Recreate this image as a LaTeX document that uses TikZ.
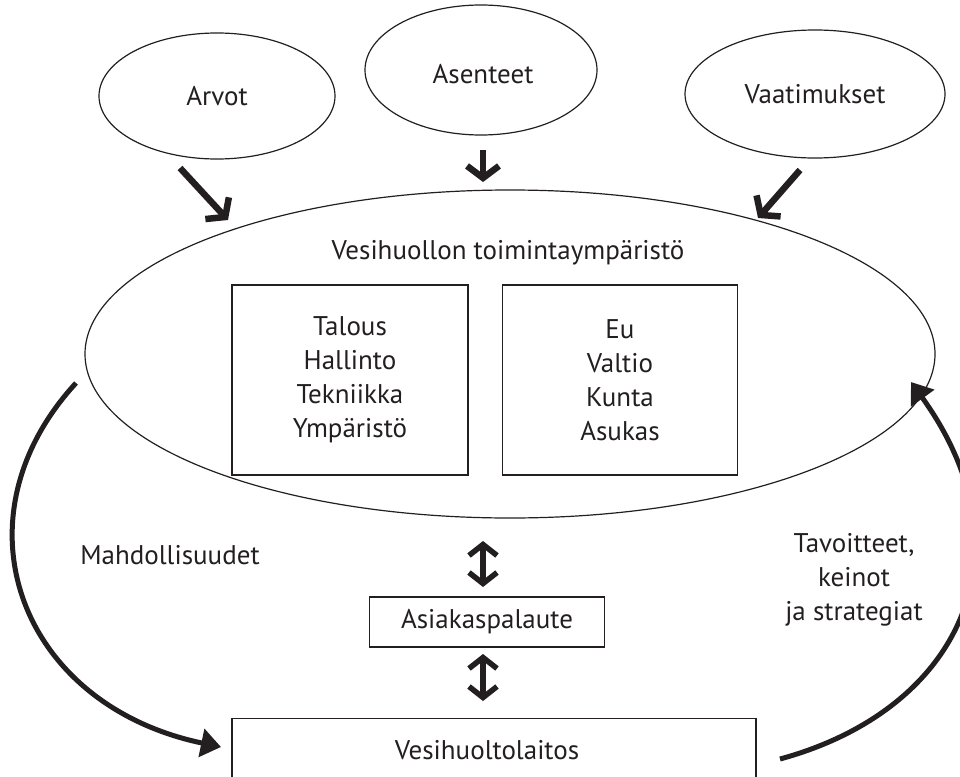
\documentclass[tikz,border=0pt]{standalone}
\usepackage{fontspec}
\setmainfont{PT Sans}
\usetikzlibrary{arrows.meta,shapes.geometric,calc}
\definecolor{ink}{HTML}{231F20}
\begin{document}
\begin{tikzpicture}[x=1pt,y=-1pt,
  every node/.style={font=\fontsize{27}{34}\selectfont, text=ink},
  oval/.style={draw=ink, line width=1.2pt, ellipse, inner sep=0pt},
  box/.style={draw=ink, line width=1.4pt, inner sep=0pt, align=center},
  bigarrow/.style={line width=6.5pt, draw=ink, -{Straight Barb[length=12pt,width=32pt]}},
  dblarrow/.style={line width=5.5pt, draw=ink, {Straight Barb[length=11pt,width=28pt]}-{Straight Barb[length=11pt,width=28pt]}},
  curvearrow/.style={line width=5pt, draw=ink, -{Triangle[length=20pt,width=28pt]}},
  lbl/.style={align=center}
]
\useasboundingbox (0,0) rectangle (960,776);
\clip (0,0) rectangle (960,776);

% top ovals
\node[oval, minimum width=236pt, minimum height=126pt] (arvot) at (217,96) {Arvot};
\node[oval, minimum width=232pt, minimum height=130pt] (asenteet) at (481,70) {};
\node (asenteetT) at (483,74) {Asenteet};
\node[oval, minimum width=260pt, minimum height=128pt] (vaat) at (815,94) {Vaatimukset};

% big ellipse
\node[oval, minimum width=850pt, minimum height=328pt] (ymp) at (510,354) {};
\node[lbl] (title) at (508,253) {Vesihuollon toimintaympäristö};

% inner boxes
\node[box, minimum width=236pt, minimum height=190pt] (lbox) at (350,380)
  {Talous\\Hallinto\\Tekniikka\\Ympäristö};
\node[box, minimum width=235pt, minimum height=190pt] (rbox) at (620,380)
  {Eu\\Valtio\\Kunta\\Asukas};

% lower boxes
\node[box, minimum width=235pt, minimum height=50pt] (asiakas) at (487,622) {Asiakaspalaute};
\node[box, minimum width=524pt, minimum height=100pt, anchor=north] (laitos) at (494,718) {};
\node (laitosT) at (487,750) {Vesihuoltolaitos};

% labels
\node[lbl] (mahd) at (170,555) {Mahdollisuudet};
\node[lbl] (tav) at (854,580) {Tavoitteet,\\keinot\\ja strategiat};

% straight arrows
\coordinate (a1s) at (180,168);
\coordinate (a1e) at (228,220);
\coordinate (a2s) at (483,150);
\coordinate (a2e) at (483,182);
\coordinate (a3s) at (800,170);
\coordinate (a3e) at (758,218);
\draw[bigarrow] (a1s) -- (a1e);
\draw[bigarrow] (a2s) -- (a2e);
\draw[bigarrow] (a3s) -- (a3e);

% double arrows
\coordinate (d1s) at (483,541);
\coordinate (d1e) at (483,587);
\coordinate (d2s) at (483,654);
\coordinate (d2e) at (483,701);
\draw[dblarrow] (d1s) -- (d1e);
\draw[dblarrow] (d2s) -- (d2e);

% curved arrows
\coordinate (ls) at (76,383);
\coordinate (le) at (221,747);
\draw[curvearrow] (ls) .. controls (-50,520) and (20,705) .. (le);
\coordinate (rs) at (780,759);
\coordinate (re) at (911,382);
\draw[curvearrow] (rs) .. controls (960,710) and (1034,553) .. (re);
\end{tikzpicture}
\end{document}
